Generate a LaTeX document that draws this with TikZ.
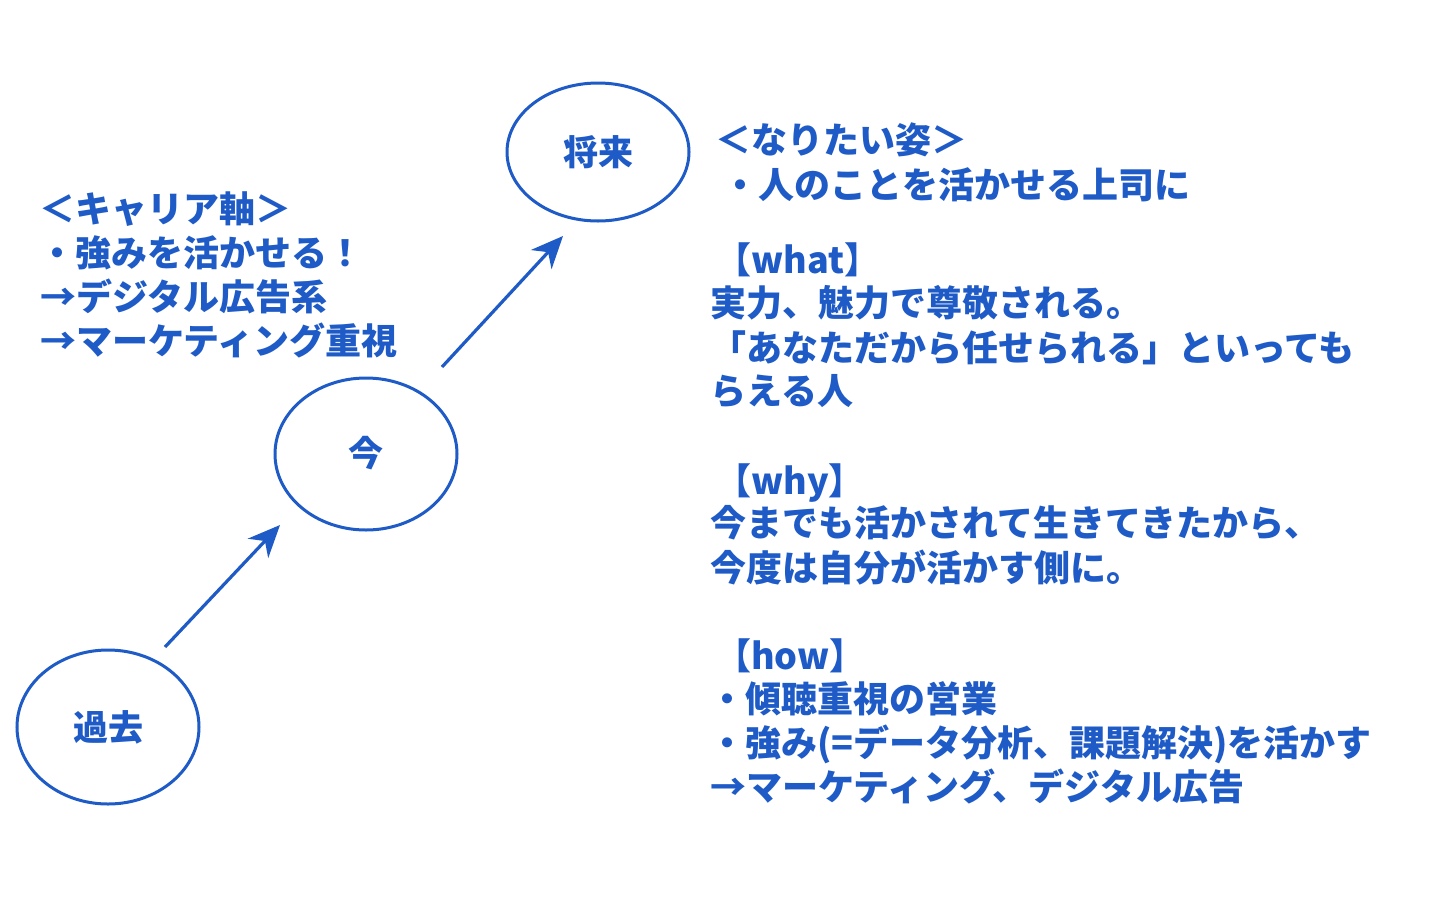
\documentclass[tikz,border=0pt]{standalone}
\usepackage{fontspec}
\setmainfont{Noto Sans CJK JP}
\usetikzlibrary{arrows.meta,shapes.geometric}
\definecolor{inkblue}{HTML}{1F5BC6}
\begin{document}
\begin{tikzpicture}[x=1pt,y=-1pt,
  bubble/.style={draw=inkblue,line width=3pt,ellipse,minimum width=#1,inner sep=0pt},
  lbl/.style={text=inkblue,font=\bfseries\fontsize{35}{35}\selectfont,inner sep=0pt},
  txt/.style={text=inkblue,font=\bfseries\fontsize{36}{36}\selectfont,anchor=base west,inner sep=0pt},
  conn/.style={draw=inkblue,line width=3.2pt,-{Stealth[length=32pt,width=28pt,inset=10pt]}}]
\useasboundingbox (0,0) rectangle (1440,900);
\fill[white] (0,0) rectangle (1440,900);
% ellipses
\node[bubble=182pt,minimum height=154pt] (past) at (108,727) {};
\node[bubble=182pt,minimum height=152pt] (now) at (366,454) {};
\node[bubble=182pt,minimum height=138pt] (future) at (598,152) {};
\node[lbl] (pastl) at (108,727) {過去};
\node[lbl] (nowl) at (366,453) {今};
\node[lbl] (futurel) at (598,152) {将来};
% arrows
\coordinate (a1s) at (165,647);
\coordinate (a1e) at (280,525);
\coordinate (a2s) at (442,367);
\coordinate (a2e) at (563,236);
\draw[conn] (a1s) -- (a1e);
\draw[conn] (a2s) -- (a2e);
% left text
\node[txt] (l1) at (39,222) {＜キャリア軸＞};
\node[txt] (l2) at (39,266) {・強みを活かせる！};
\node[txt] (l3) at (40,310) {→デジタル広告系};
\node[txt] (l4) at (40,354) {→マーケティング重視};
% right text
\node[txt] (r1) at (715,153) {＜なりたい姿＞};
\node[txt] (r2) at (722,198) {・人のことを活かせる上司に};
\node[txt] (r3) at (715,273) {【what】};
\node[txt] (r4) at (710,316) {実力、魅力で尊敬される。};
\node[txt] (r5) at (710,361) {「あなただから任せられる」といっても};
\node[txt] (r6) at (710,404) {らえる人};
\node[txt] (r7) at (715,494) {【why】};
\node[txt] (r8) at (710,536) {今までも活かされて生きてきたから、};
\node[txt] (r9) at (710,581) {今度は自分が活かす側に。};
\node[txt] (r10) at (715,669) {【how】};
\node[txt] (r11) at (709,712) {・傾聴重視の営業};
\node[txt] (r12) at (709,756) {・強み(=データ分析、課題解決)を活かす};
\node[txt] (r13) at (710,800) {→マーケティング、デジタル広告};
\end{tikzpicture}
\end{document}
